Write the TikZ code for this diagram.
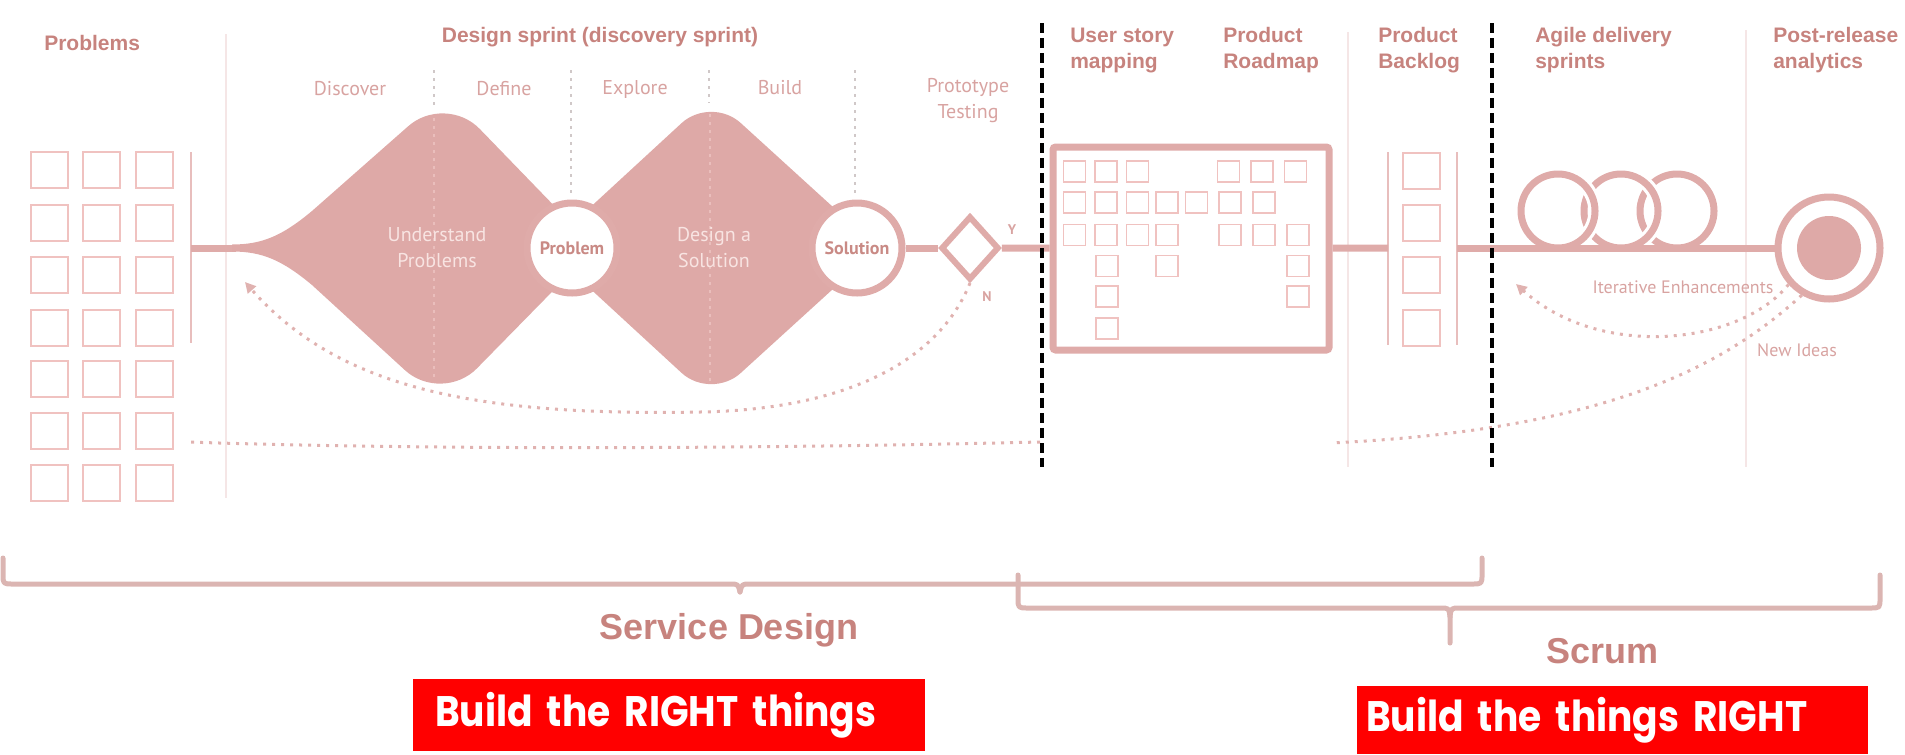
\documentclass[tikz,border=0pt]{standalone}
\usepackage{fontspec}
\setmainfont{Liberation Sans}
\newfontfamily\softfont{PT Sans}
\newfontfamily\bannerfont{Poppins}[FakeStretch=0.88]
\usetikzlibrary{shapes.geometric,arrows.meta,positioning}

\definecolor{rosetext}{RGB}{199,131,126}
\definecolor{rosephase}{RGB}{216,163,161}
\definecolor{rosefill}{RGB}{222,169,167}
\definecolor{roseline}{RGB}{223,171,169}
\definecolor{rosesq}{RGB}{240,194,192}
\definecolor{rosebar}{RGB}{232,190,189}
\definecolor{rosefaint}{RGB}{245,230,230}
\definecolor{rosedot}{RGB}{224,178,176}
\definecolor{greydot}{RGB}{208,200,200}
\definecolor{innerdot}{RGB}{234,190,188}
\definecolor{braceclr}{RGB}{219,181,178}
\definecolor{innertext}{RGB}{248,228,226}
\definecolor{gatetext}{RGB}{201,138,133}

\tikzset{
  colhead/.style={font=\bfseries\fontsize{15.75}{19.5}\selectfont, text=rosetext, align=left, inner sep=0pt},
  phaselabel/.style={font=\softfont\fontsize{15}{19.5}\selectfont, text=rosephase, align=center, inner sep=0pt},
  innerlabel/.style={font=\softfont\fontsize{15}{19.5}\selectfont, text=innertext, align=center, inner sep=0pt},
  notelabel/.style={font=\softfont\fontsize{13.5}{16}\selectfont, text=rosephase, inner sep=0pt},
  spanlabel/.style={font=\bfseries\fontsize{27}{32}\selectfont, text=rosetext, inner sep=0pt},
  redbanner/.style={fill=red, text=white, font=\bannerfont\bfseries\fontsize{32}{38}\selectfont, align=left, inner ysep=0pt},
  flow/.style={draw=roseline, line width=5.25pt},
  railbar/.style={draw=rosebar, line width=2pt},
  faintrule/.style={draw=rosefaint, line width=1.5pt},
  bigsq/.style={draw=rosesq, line width=1.5pt, minimum width=27.75pt, minimum height=27pt, inner sep=0pt},
  smallsq/.style={draw=rosesq, line width=1pt, minimum width=16.5pt, minimum height=15.75pt, inner sep=0pt},
  stagecircle/.style={circle, draw=roseline, line width=5.25pt, fill=white, minimum size=67.5pt, inner sep=0pt, text=gatetext, font=\softfont\bfseries\fontsize{13.5}{15}\selectfont},
  decision/.style={diamond, draw=roseline, line width=4.5pt, fill=white, minimum width=43.5pt, minimum height=48pt, inner sep=0pt},
  storybox/.style={draw=roseline, line width=5.25pt, rounded corners=2pt, minimum width=207pt, minimum height=152.25pt},
  sprintring/.style={draw=roseline, line width=5.25pt},
  gapmask/.style={draw=white, line width=10pt},
  dotline/.style={draw=rosedot, line width=2.25pt, dash pattern=on 2.25pt off 4.5pt},
  guidedots/.style={draw=greydot, line width=2pt, dash pattern=on 2pt off 4pt},
  innerdots/.style={draw=innerdot, line width=1.5pt, dash pattern=on 2pt off 4pt},
  divider/.style={draw=black, line width=3pt, dash pattern=on 7.5pt off 3.75pt},
  spanbrace/.style={draw=braceclr, line width=3.75pt, line cap=round, line join=round},
  yn/.style={font=\softfont\bfseries\fontsize{10.5}{12}\selectfont, text=rosephase, inner sep=0pt}
}

\begin{document}
\begin{tikzpicture}[x=0.75pt,y=0.75pt,yscale=-1,xscale=1]
\path[use as bounding box] (0,0) rectangle (1905,754);

%Faint column rules
\draw[faintrule] (226,34) -- (226,498);
\draw[faintrule] (1348,32) -- (1348,467);
\draw[faintrule] (1746,30) -- (1746,467);

%Problem grid
\foreach \c [count=\i] in {49.5,101.5,154.5}
  \foreach \r [count=\j] in {170,222.5,275,327.5,379,431,483}
    \node[bigsq] (pb\i-\j) at (\c,\r) {};
\draw[railbar] (191,152) -- (191,343);
\coordinate (pbar) at (191,248);
\coordinate (funnel) at (236,248);
\draw[flow] (pbar) -- (funnel);

%Guide dots above the diamonds
\draw[guidedots] (434,70) -- (434,108);
\draw[guidedots] (571,70) -- (571,195);
\draw[guidedots] (709,70) -- (709,103);
\draw[guidedots] (855,70) -- (855,195);

%Shape: Understand Problems
\fill[rosefill] (232,244.5) .. controls (262,244.5) and (282,236) .. (312,211) -- (407.9,126.5) .. controls (428.3,108.1) and (460.7,109.2) .. (479.8,129) -- (595,248) -- (477,368.3) .. controls (457.8,387.9) and (425.4,388.8) .. (405.1,370.3) -- (312,285) .. controls (282,260) and (262,251.5) .. (232,251.5) -- cycle;
%Shape: Design a Solution
\fill[rosefill] (546,248) -- (681.6,123.1) .. controls (697.8,108.2) and (724.3,108.1) .. (740.6,122.9) -- (878,248) -- (740.6,373.1) .. controls (724.3,387.9) and (697.8,387.8) .. (681.6,372.9) -- cycle;
\draw[innerdots] (434,118) -- (434,380);
\draw[innerdots] (710,114) -- (710,384);

% Text Node
\node[innerlabel] (und) at (437,248) {Understand\\Problems};
\node[innerlabel] (des) at (714,248) {Design a\\Solution};

%Problem / Solution / test
\node[stagecircle] (prob) at (572,248) {Problem};
\node[stagecircle] (sol) at (857,248) {Solution};
\node[decision] (test) at (970,248) {};
\node[storybox] (usm) at (1191,248.5) {};
\draw[flow] (sol) -- (test);
\draw[flow] (test) -- (usm);
\node[yn] (yes) at (1012,230) {Y};
\node[yn] (no) at (987,297) {N};

%Story map cards
\foreach \c/\r [count=\k] in {1074.5/171.5,1106/171.5,1137.5/171.5,1228.5/171.5,1262/171.5,1295.5/171.5,
    1074.5/202.5,1106/202.5,1137.5/202.5,1167/202.5,1196.5/202.5,1230/202.5,1264/202.5,
    1074.5/235,1106/235,1137.5/235,1167/235,1230/235,1264/235,1298/235,
    1107/266,1167/266,1298/266,
    1107/296.5,1298/296.5,
    1107/328.5}
  \node[smallsq] (card\k) at (\c,\r) {};

%Product backlog
\coordinate (blL) at (1388,248);
\coordinate (blR) at (1457,248);
\draw[railbar] (1388,152) -- (1388,345);
\draw[railbar] (1457,152) -- (1457,345);
\foreach \r [count=\k] in {170.5,223,275,328}
  \node[bigsq] (bl\k) at (1421.5,\r) {};
\draw[flow] (usm) -- (blL);

%Sprints and release
\node[stagecircle, minimum size=76.5pt] (post) at (1829,248) {};
\node[circle, fill=rosefill, minimum size=48pt, inner sep=0pt] (postcore) at (post) {};
\draw[flow] (blR) -- (post);
\coordinate (sp1) at (1558,211);
\coordinate (sp2) at (1621,211);
\coordinate (sp3) at (1677,211);
\draw[sprintring] (sp3) circle[radius=37];
\draw[gapmask] ([shift={(-50:37)}]sp2) arc[start angle=-50,end angle=50,radius=37];
\draw[sprintring] (sp2) circle[radius=37];
\draw[gapmask] ([shift={(-50:37)}]sp1) arc[start angle=-50,end angle=50,radius=37];
\draw[sprintring] (sp1) circle[radius=37];

%Dotted feedback lines
\coordinate (backtip) at (245,282);
\coordinate (itertip) at (1516,284);
\coordinate (ideasend) at (1331,443);
\coordinate (sdstart) at (187,442);
\coordinate (sdend) at (1040,442);
\draw[dotline, -{Triangle[length=8pt,width=8pt]}] (test.south) .. controls (935,370) and (830,410) .. (700,412) .. controls (480,416) and (340,390) .. (backtip);
\draw[dotline, -{Triangle[length=8pt,width=8pt]}] (post.222) .. controls (1740,345) and (1600,360) .. (itertip);
\draw[dotline] (post.240) .. controls (1720,370) and (1600,430) .. (ideasend);
\draw[dotline] (sdend) .. controls (700,450) and (400,449) .. (sdstart);
\node[notelabel] (iter) at (1683,287) {Iterative Enhancements};
\node[notelabel] (ideas) at (1797,350) {New Ideas};

%Dividers
\draw[divider] (1042,23) -- (1042,467);
\draw[divider] (1492,23) -- (1492,467);

% Text Node
\node[colhead, anchor=west] (probhead) at (44,43) {Problems};
\node[colhead] (dshead) at (600,37) {Design sprint (discovery sprint)};
\node[colhead, anchor=west] (usmhead) at (1070,50) {User story\\mapping};
\node[colhead, anchor=west] (roadhead) at (1223,50) {Product\\Roadmap};
\node[colhead, anchor=west] (backhead) at (1378,50) {Product\\Backlog};
\node[colhead, anchor=west] (agilehead) at (1535,50) {Agile delivery\\sprints};
\node[colhead, anchor=west] (posthead) at (1773,50) {Post-release\\analytics};
\node[phaselabel] (discover) at (350,89) {Discover};
\node[phaselabel] (define) at (504,89) {Define};
\node[phaselabel] (explore) at (635,89) {Explore};
\node[phaselabel] (build) at (780,88) {Build};
\node[phaselabel] (proto) at (968,101) {Prototype\\Testing};

%Braces
\draw[spanbrace] (3,558) -- (3,574) .. controls (3,584) .. (13,584) -- (730,584) .. controls (738,584) .. (740,592);
\draw[spanbrace] (740,592) .. controls (742,584) .. (750,584) -- (1472,584) .. controls (1482,584) .. (1482,574) -- (1482,558);
\draw[spanbrace] (1018,575) -- (1018,598) .. controls (1018,608) .. (1028,608) -- (1440,608) .. controls (1449,608) .. (1450,617) -- (1450,643);
\draw[spanbrace] (1450,617) .. controls (1451,608) .. (1460,608) -- (1870,608) .. controls (1880,608) .. (1880,598) -- (1880,575);
\node[spanlabel] (sdlabel) at (729,630) {Service Design};
\node[spanlabel] (scrumlabel) at (1602,651) {Scrum};

%Banners
\node[redbanner, minimum width=384pt, minimum height=54pt, inner xsep=16.5pt, text width=351pt] (rightthings) at (669,715) {Build the RIGHT things};
\node[redbanner, minimum width=383.25pt, minimum height=51pt, inner xsep=6.75pt, text width=369.75pt] (thingsright) at (1612.5,720) {Build the things RIGHT};

\end{tikzpicture}
\end{document}
